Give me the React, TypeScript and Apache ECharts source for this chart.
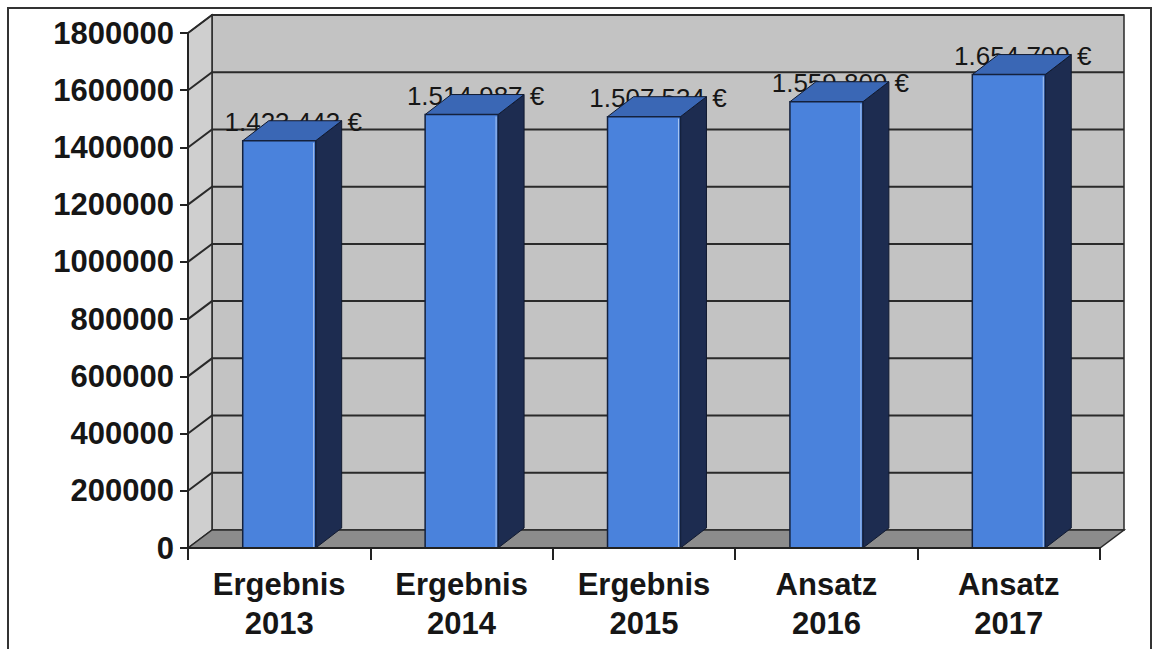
import React, { useEffect, useRef } from "react";
import * as echarts from "echarts";

const categories = ["Ergebnis\n2013", "Ergebnis\n2014", "Ergebnis\n2015", "Ansatz\n2016", "Ansatz\n2017"];
const values = [1423443, 1514987, 1507534, 1559809, 1654700];
const valueLabels = ["1.423.443 €", "1.514.987 €", "1.507.534 €", "1.559.809 €", "1.654.700 €"];
const yTicks = [0, 200000, 400000, 600000, 800000, 1000000, 1200000, 1400000, 1600000, 1800000];

const DX = 24;
const DY = -18;
const BDX = 26;
const BDY = -20;
const FONT = '"Liberation Sans", Arial, sans-serif';

export default function App() {
  const ref = useRef<HTMLDivElement>(null);
  useEffect(() => {
    if (!ref.current) return;
    const chart = echarts.init(ref.current, undefined, { renderer: "svg" });
    const option: any = {
      animation: false,
      backgroundColor: "#ffffff",
      grid: { left: 188, top: 33, right: 56, bottom: 101, containLabel: false },
      xAxis: {
        type: "category",
        data: categories,
        z: 10,
        axisLine: { show: true, lineStyle: { color: "#222", width: 2 } },
        axisTick: { show: true, length: 12, lineStyle: { color: "#222", width: 2 } },
        axisLabel: {
          interval: 0,
          margin: 17,
          color: "#161616",
          fontSize: 31,
          fontWeight: "bold",
          fontFamily: FONT,
          lineHeight: 39,
        },
        splitLine: { show: false },
      },
      yAxis: {
        type: "value",
        min: 0,
        max: 1800000,
        interval: 200000,
        z: 10,
        axisLine: { show: true, lineStyle: { color: "#222", width: 2 } },
        axisTick: { show: true, length: 8, lineStyle: { color: "#222", width: 2 } },
        axisLabel: {
          margin: 14,
          color: "#161616",
          fontSize: 31,
          fontWeight: "bold",
          fontFamily: FONT,
          formatter: (v: number) => String(v),
        },
        splitLine: { show: false },
      },
      graphic: [
        {
          type: "rect",
          z: 100,
          shape: { x: 8, y: 8, width: 1143, height: 660 },
          style: { fill: "none", stroke: "#333", lineWidth: 2 },
        },
      ],
      series: [
        {
          type: "custom",
          z: 1,
          silent: true,
          data: [[0, 0]],
          encode: { x: 0, y: 1 },
          renderItem: (params: any, api: any) => {
            const cs = params.coordSys;
            const L = cs.x;
            const T = cs.y;
            const R = cs.x + cs.width;
            const B = cs.y + cs.height;
            const children: any[] = [];
            children.push({
              type: "polygon",
              shape: { points: [[L + DX, T + DY], [R + DX, T + DY], [R + DX, B + DY], [L + DX, B + DY]] },
              style: { fill: "#c3c3c3", stroke: "#2a2a2a", lineWidth: 1.5 },
            });
            children.push({
              type: "polygon",
              shape: { points: [[L, T], [L + DX, T + DY], [L + DX, B + DY], [L, B]] },
              style: { fill: "#cfcfcf", stroke: "#2a2a2a", lineWidth: 1.5 },
            });
            children.push({
              type: "polygon",
              shape: { points: [[L, B], [R, B], [R + DX, B + DY], [L + DX, B + DY]] },
              style: { fill: "#8c8c8c", stroke: "#2a2a2a", lineWidth: 1.5 },
            });
            for (const v of yTicks.slice(1)) {
              const y = api.coord([0, v])[1];
              children.push({
                type: "polyline",
                shape: { points: [[L, y], [L + DX, y + DY], [R + DX, y + DY]] },
                style: { fill: "none", stroke: "#2a2a2a", lineWidth: 2 },
              });
            }
            return { type: "group", children };
          },
        },
        {
          type: "custom",
          z: 2,
          data: values.map((v, i) => [i, v]),
          encode: { x: 0, y: 1 },
          renderItem: (params: any, api: any) => {
            const i = api.value(0);
            const v = api.value(1);
            const top = api.coord([i, v]);
            const cx = top[0];
            const yTop = top[1];
            const yBase = api.coord([i, 0])[1];
            const band = api.size([1, 0])[0];
            const w = band * 0.4;
            const x0 = cx - w / 2;
            const x1 = cx + w / 2;
            return {
              type: "group",
              children: [
                {
                  type: "text",
                  style: {
                    text: valueLabels[params.dataIndex],
                    x: cx + 14,
                    y: yTop - 6,
                    align: "center",
                    verticalAlign: "bottom",
                    fill: "#161616",
                    fontSize: 26,
                    fontFamily: FONT,
                  },
                },
                {
                  type: "polygon",
                  shape: { points: [[x1, yBase], [x1 + BDX, yBase + BDY], [x1 + BDX, yTop + BDY], [x1, yTop]] },
                  style: { fill: "#1d2c50", stroke: "#111a30", lineWidth: 1 },
                },
                {
                  type: "polygon",
                  shape: { points: [[x0, yTop], [x1, yTop], [x1 + BDX, yTop + BDY], [x0 + BDX, yTop + BDY]] },
                  style: { fill: "#3a67b5", stroke: "#111a30", lineWidth: 1 },
                },
                {
                  type: "rect",
                  shape: { x: x0, y: yTop, width: w, height: yBase - yTop },
                  style: { fill: "#4a82dc", stroke: "#14213d", lineWidth: 1.5 },
                },
                {
                  type: "line",
                  shape: { x1: x1 - 2, y1: yTop + 2, x2: x1 - 2, y2: yBase - 1 },
                  style: { stroke: "#a9c6f2", lineWidth: 1 },
                },
              ],
            };
          },
        },
      ],
    };
    chart.setOption(option);
    return () => chart.dispose();
  }, []);
  return (
    <div
      ref={ref}
      style={{ position: "absolute", left: 0, top: 0, width: 1156, height: 649, background: "#fff" }}
    />
  );
}
